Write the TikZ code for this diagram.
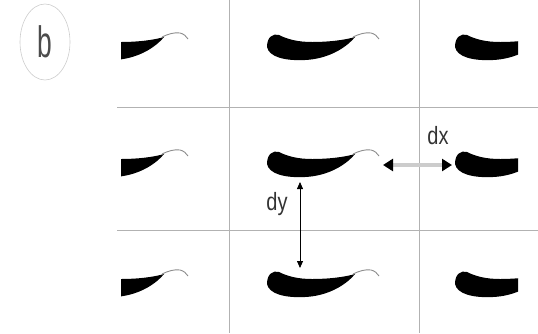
\documentclass[tikz,border=0pt]{standalone}
\usepackage{fontspec}
\setsansfont{Liberation Sans}
\usetikzlibrary{arrows.meta,positioning,shapes.geometric,calc}

\begin{document}
\begin{tikzpicture}[
x=1pt, y=-1pt,
grid/.style={gray!60, line width=0.9pt},
lbl/.style={font=\sffamily\fontsize{25}{25}\selectfont, text=black!80, inner sep=0pt},
tag/.style={draw=gray!40, ellipse, line width=0.6pt, minimum width=50pt, minimum height=76pt, inner sep=0pt,
  font=\sffamily\fontsize{44}{44}\selectfont, text=black!70},
fish/.pic={
  \fill[black] (0,0) .. controls (0,-10) and (6,-14) .. (12,-12)
    .. controls (20,-8) and (30,-5) .. (45,-5)
    .. controls (62,-5) and (78,-7) .. (88,-10)
    .. controls (78,2) and (60,12) .. (38,13)
    .. controls (18,14) and (2,10) .. cycle;
  \draw[black!45, line width=0.9pt] (86,-10) .. controls (92,-13) and (99,-15) .. (104,-14)
    .. controls (108,-13) and (110,-11) .. (112,-8);
}
]
\useasboundingbox (0,0) rectangle (538,333);

% label of the panel
\node[tag] (panel) at (45,42) {\scalebox{0.6}[1]{b}};

% grid
\draw[grid] (117,107) -- (538,107);
\draw[grid] (117,230) -- (538,230);
\draw[grid] (229,0) -- (229,333);
\draw[grid] (419,0) -- (419,333);

% middle column
\foreach \r in {47,164,284}
  \pic at (267,\r) {fish};

% left column, clipped
\begin{scope}
\clip (121,0) rectangle (229,333);
\foreach \r in {47,164,284}
  \pic at (76,\r) {fish};
\end{scope}

% right column, clipped
\begin{scope}
\clip (419,0) rectangle (518,333);
\foreach \r in {47,164,284}
  \pic at (455,\r) {fish};
\end{scope}

% spacings
\coordinate (dxl) at (383,165);
\coordinate (dxr) at (452,165);
\coordinate (dyt) at (300,182);
\coordinate (dyb) at (300,268);
\draw[gray!40, line width=3.5pt, {Triangle[length=10pt,width=12pt,black]}-{Triangle[length=10pt,width=12pt,black]}] (dxl) -- (dxr);
\draw[{Triangle[length=7pt,width=6pt]}-{Triangle[length=7pt,width=6pt]}, line width=0.8pt] (dyt) -- (dyb);
\node[lbl] (dx) at (438,136) {\scalebox{0.8}[1]{dx}};
\node[lbl] (dy) at (277,204) {\scalebox{0.8}[1]{dy}};
\end{tikzpicture}
\end{document}
